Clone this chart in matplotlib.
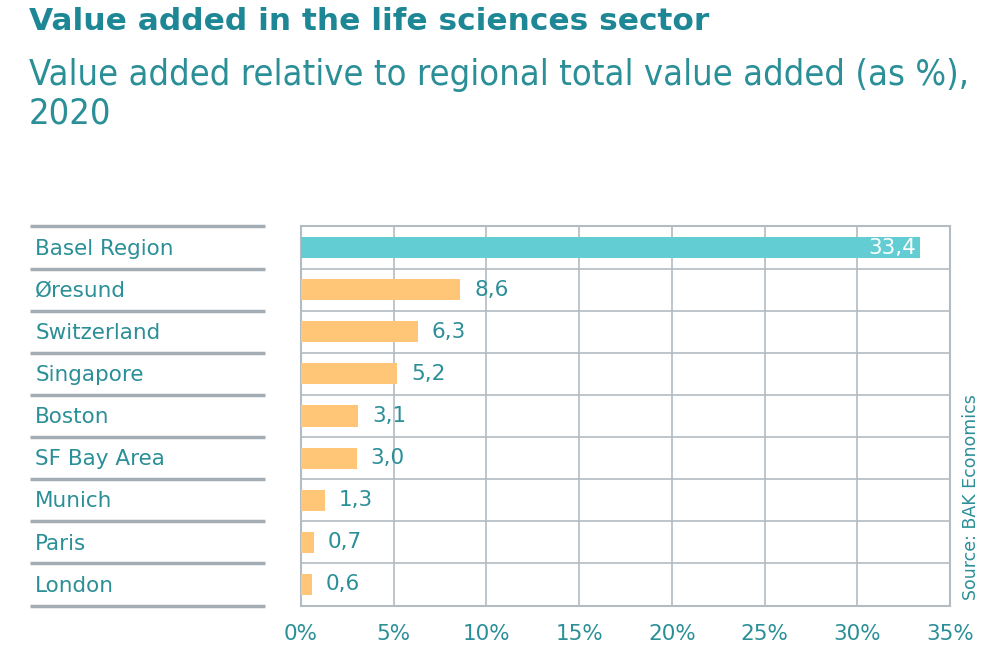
import matplotlib
matplotlib.use("Agg")
import matplotlib.pyplot as plt
import numpy as np

categories = ["Basel Region", "Øresund", "Switzerland", "Singapore", "Boston",
              "SF Bay Area", "Munich", "Paris", "London"]
values = [33.4, 8.6, 6.3, 5.2, 3.1, 3.0, 1.3, 0.7, 0.6]
value_labels = ["33,4", "8,6", "6,3", "5,2", "3,1", "3,0", "1,3", "0,7", "0,6"]
xticks = [0, 5, 10, 15, 20, 25, 30, 35]
xtick_labels = ["0%", "5%", "10%", "15%", "20%", "25%", "30%", "35%"]

TEAL_TEXT = "#2b8f97"
TITLE_C = "#1d8795"
BAR_HI = "#62cdd3"
BAR_LO = "#ffc677"
GRID = "#b3bcc2"
LINE = "#a3adb3"

plt.rcParams['font.family'] = ['DejaVu Sans']

fig = plt.figure(figsize=(9.96, 6.62), dpi=100)
W, H = 996, 662

def fx(px):
    return px / W

def fy(py):
    return 1 - py / H

top, bottom = 226.5, 605.5
ax = fig.add_axes([fx(301), fy(bottom), fx(950) - fx(301), fy(top) - fy(bottom)])
n = len(categories)
y = np.arange(n)
colors = [BAR_HI] + [BAR_LO] * (n - 1)
ax.barh(y, values, height=0.5, color=colors, zorder=3)
ax.set_xlim(0, 35)
ax.set_ylim(n - 0.5, -0.5)
ax.set_xticks(xticks)
ax.set_xticklabels(xtick_labels, color=TEAL_TEXT, fontsize=15.5)
ax.set_yticks([])
ax.set_yticks(np.arange(n + 1) - 0.5, minor=True)
ax.tick_params(axis='x', length=0, pad=13)
ax.tick_params(axis='y', which='both', length=0)
ax.grid(axis='x', color=GRID, lw=1.2, zorder=1)
ax.grid(axis='y', which='minor', color=GRID, lw=1.2, zorder=1)
for s in ax.spines.values():
    s.set_color(GRID)
    s.set_linewidth(1.5)

for i, (v, lab) in enumerate(zip(values, value_labels)):
    if i == 0:
        ax.text(v - 0.2, i, lab, ha='right', va='center', color='white',
                fontsize=15.5, zorder=4)
    else:
        ax.text(v + 0.75, i, lab, ha='left', va='center', color=TEAL_TEXT,
                fontsize=15.5, zorder=4)

# left label column
lax = fig.add_axes([fx(30), fy(bottom), fx(265) - fx(30), fy(top) - fy(bottom)])
lax.set_xlim(0, 1)
lax.set_ylim(n - 0.5, -0.5)
lax.axis('off')
lax.hlines(np.arange(n + 1) - 0.5, 0, 1, color=LINE, lw=2.5, clip_on=False)
for i, c in enumerate(categories):
    lax.text(0.022, i + 0.03, c, ha='left', va='center', color=TEAL_TEXT, fontsize=15.5)

fig.text(fx(29), fy(22), "Value added in the life sciences sector", ha='left',
         va='center', fontsize=22.5, fontweight='bold', color=TITLE_C)
fig.text(fx(29), fy(94), "Value added relative to regional total value added (as %),\n2020",
         ha='left', va='center', fontsize=26, color=TEAL_TEXT, linespacing=1.15,
         fontstretch='condensed')
fig.text(fx(971), fy(600), "Source: BAK Economics", rotation=90, ha='center',
         va='bottom', fontsize=12.5, color=TEAL_TEXT)

fig.savefig("out.png", dpi=100)
